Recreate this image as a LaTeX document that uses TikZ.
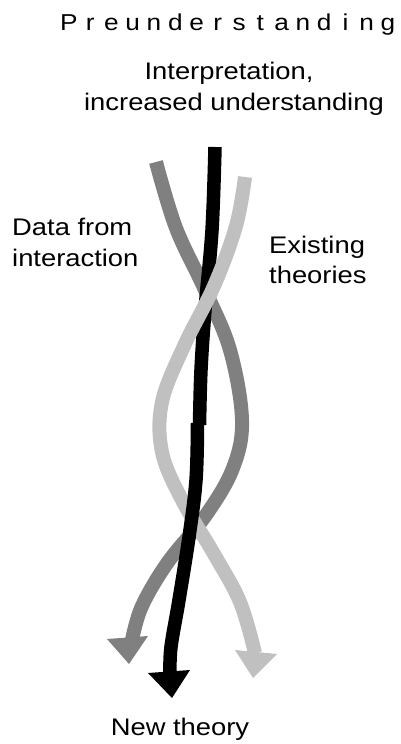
\documentclass[tikz,border=0pt]{standalone}
\usepackage{fontspec}
\setmainfont{Liberation Sans}[FakeStretch=1.14]
\definecolor{strandD}{HTML}{808080}
\definecolor{strandL}{HTML}{C0C0C0}
\tikzset{
  strand/.style={line width=14pt, line cap=butt, line join=round},
  lbl/.style={inner sep=0pt, font=\fontsize{24}{31}\selectfont},
}
\begin{document}
\begin{tikzpicture}[x=1pt,y=-1pt]
\useasboundingbox (0,0) rectangle (400,744);
% top label, letter spaced
\node[lbl, anchor=base, font=\fontsize{23}{27}\selectfont] (pre) at (228.5,30)
  {\foreach \c in {P,r,e,u,n,d,e,r,s,t,a,n,d,i,n,g}{\makebox[21.27pt][c]{\c}}};
\node[lbl, anchor=base] (interp1) at (229,79) {Interpretation,};
\node[lbl, anchor=base] (interp2) at (234,110) {increased understanding};
\node[lbl, anchor=base west] (data1) at (12,235) {Data from};
\node[lbl, anchor=base west] (data2) at (12,266) {interaction};
\node[lbl, anchor=base west] (exist1) at (269,253) {Existing};
\node[lbl, anchor=base west] (exist2) at (269,283) {theories};
\node[lbl, anchor=base] (new) at (180,735) {New theory};
% dark gray strand (data from interaction)
\draw[strand, strandD] plot[smooth, tension=0.6] coordinates {
  (156,162) (176,228) (205,290) (230,350) (242,420) (233,468)
  (206,515) (168,562) (142,606) (132,640)};
\fill[strandD] (107,639) -- (148,636) -- (129,664) -- cycle;
% black strand, upper part
\draw[strand, line width=13.5pt, black] plot[smooth, tension=0.6] coordinates {
  (215,147) (212,230) (205,310) (201,370) (199.5,425)};
% light gray strand (existing theories)
\draw[strand, strandL] plot[smooth, tension=0.6] coordinates {
  (245,177) (236,226) (214,286) (184,346) (162,402) (162,452)
  (182,500) (214,554) (240,602) (255,653)};
\fill[strandL] (235,650) -- (277,654) -- (253,678) -- cycle;
% black strand, lower part
\draw[strand, line width=13.5pt, black] plot[smooth, tension=0.6] coordinates {
  (197.5,423) (196,480) (189,537) (179,600) (171,647) (170,673)};
\fill[black] (148,673) -- (190,670) -- (172,698) -- cycle;
\end{tikzpicture}
\end{document}
